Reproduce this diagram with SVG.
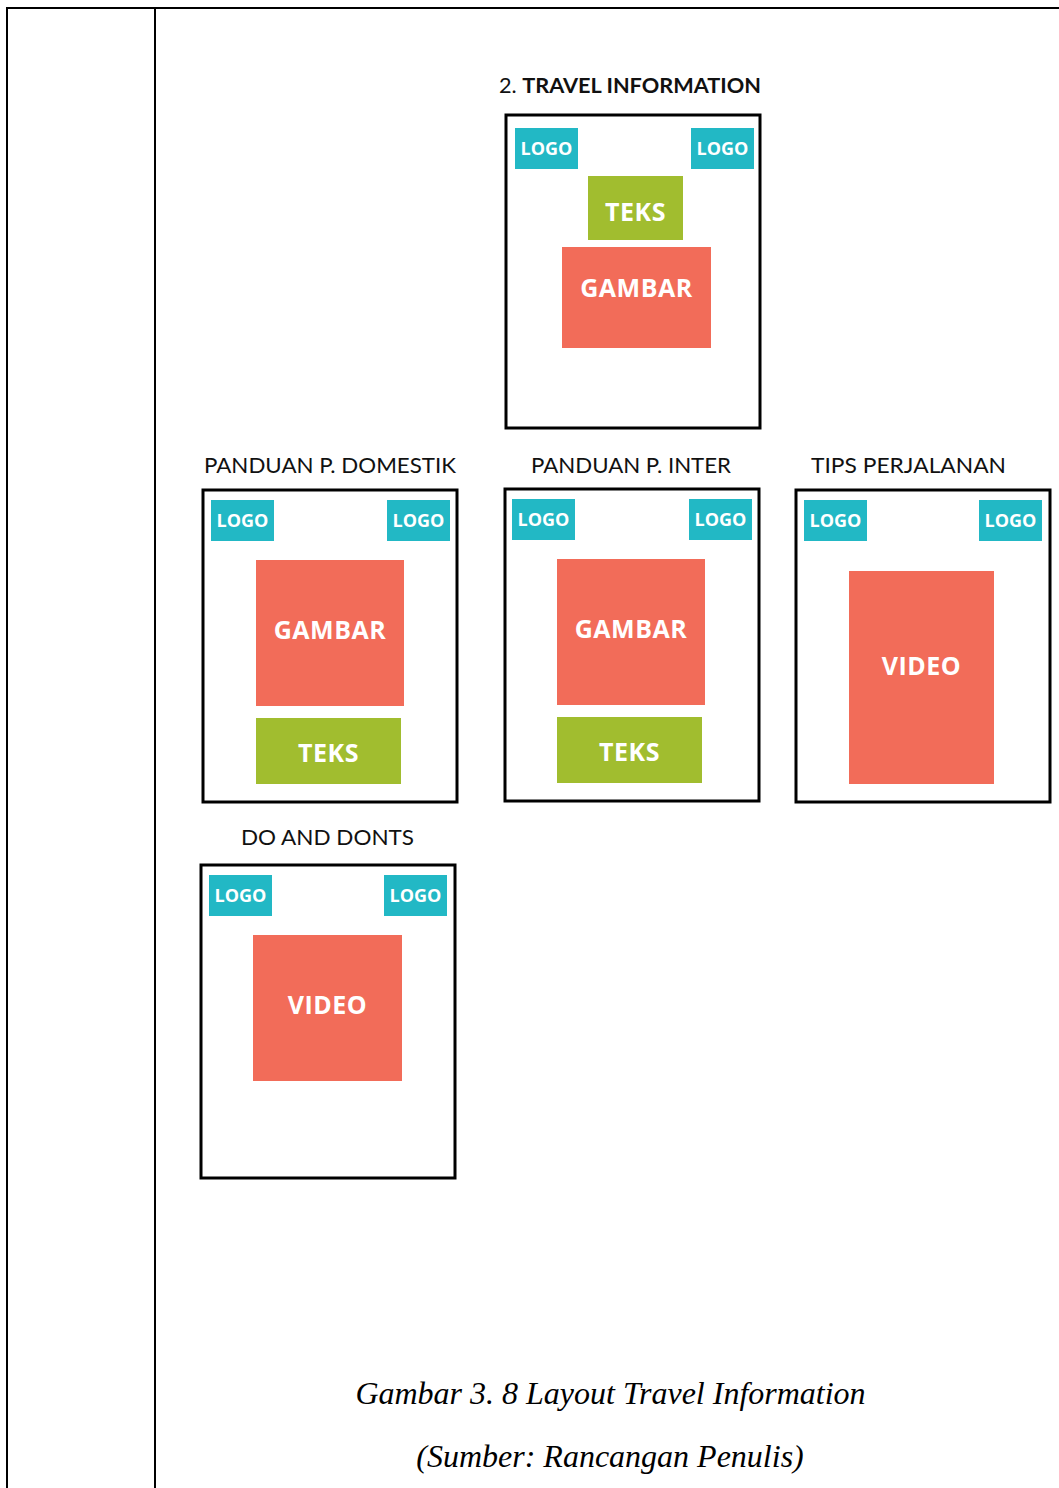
<svg xmlns="http://www.w3.org/2000/svg" width="1059" height="1488" viewBox="0 0 1059 1488">
<style>
.tbl{stroke:#000;stroke-width:2;fill:none}
.frame{fill:#fff;stroke:#000;stroke-width:3}
.logo{fill:#22B8C5}
.teks{fill:#A1BD2F}
.gam{fill:#F26C59}
.lt{font-family:"Open Sans",sans-serif;font-weight:700;font-size:18px;fill:#fff;text-anchor:middle}
.bt{font-family:"Open Sans",sans-serif;font-weight:700;font-size:25px;fill:#fff;text-anchor:middle;letter-spacing:0.5px}
.hd{font-family:Lato,"Noto Sans",sans-serif;font-size:21px;fill:#111}
.cap{font-family:"Liberation Serif",serif;font-style:italic;font-size:32px;fill:#000;text-anchor:middle}
</style>
<rect width="1059" height="1488" fill="#fff"/>
<g id="table">
<line class="tbl" x1="7" y1="8" x2="1059" y2="8"/>
<line class="tbl" x1="7" y1="7" x2="7" y2="1488"/>
<line class="tbl" x1="155" y1="7" x2="155" y2="1488"/>
</g>
<g id="title">
<text class="hd" x="499" y="93" textLength="262" lengthAdjust="spacingAndGlyphs">2. <tspan font-weight="700">TRAVEL INFORMATION</tspan></text>
</g>
<g id="node-travel">
<rect class="frame" x="506" y="115" width="254" height="313"/>
<rect class="logo" x="515" y="128" width="63" height="41"/><text class="lt" x="546.5" y="155">LOGO</text>
<rect class="logo" x="691" y="128" width="63" height="41"/><text class="lt" x="722.5" y="155">LOGO</text>
<rect class="teks" x="588" y="176" width="95" height="64"/><text class="bt" x="635.5" y="221">TEKS</text>
<rect class="gam" x="562" y="247" width="149" height="101"/><text class="bt" x="636.5" y="297">GAMBAR</text>
</g>
<g id="node-domestik">
<text class="hd" x="204" y="473" textLength="252" lengthAdjust="spacingAndGlyphs">PANDUAN P. DOMESTIK</text>
<rect class="frame" x="203" y="490" width="254" height="312"/>
<rect class="logo" x="211" y="500" width="63" height="41"/><text class="lt" x="242.5" y="527">LOGO</text>
<rect class="logo" x="387" y="500" width="63" height="41"/><text class="lt" x="418.5" y="527">LOGO</text>
<rect class="gam" x="256" y="560" width="148" height="146"/><text class="bt" x="330" y="639">GAMBAR</text>
<rect class="teks" x="256" y="718" width="145" height="66"/><text class="bt" x="328.5" y="762">TEKS</text>
</g>
<g id="node-inter">
<text class="hd" x="531" y="473" textLength="200" lengthAdjust="spacingAndGlyphs">PANDUAN P. INTER</text>
<rect class="frame" x="505" y="489" width="254" height="312"/>
<rect class="logo" x="512" y="499" width="63" height="41"/><text class="lt" x="543.5" y="526">LOGO</text>
<rect class="logo" x="689" y="499" width="63" height="41"/><text class="lt" x="720.5" y="526">LOGO</text>
<rect class="gam" x="557" y="559" width="148" height="146"/><text class="bt" x="631" y="638">GAMBAR</text>
<rect class="teks" x="557" y="717" width="145" height="66"/><text class="bt" x="629.5" y="761">TEKS</text>
</g>
<g id="node-tips">
<text class="hd" x="811" y="473" textLength="195" lengthAdjust="spacingAndGlyphs">TIPS PERJALANAN</text>
<rect class="frame" x="796" y="490" width="254" height="312"/>
<rect class="logo" x="804" y="500" width="63" height="41"/><text class="lt" x="835.5" y="527">LOGO</text>
<rect class="logo" x="979" y="500" width="63" height="41"/><text class="lt" x="1010.5" y="527">LOGO</text>
<rect class="gam" x="849" y="571" width="145" height="213"/><text class="bt" x="921.5" y="675">VIDEO</text>
</g>
<g id="node-dodonts">
<text class="hd" x="241" y="845" textLength="173" lengthAdjust="spacingAndGlyphs">DO AND DONTS</text>
<rect class="frame" x="201" y="865" width="254" height="313"/>
<rect class="logo" x="209" y="875" width="63" height="41"/><text class="lt" x="240.5" y="902">LOGO</text>
<rect class="logo" x="384" y="875" width="63" height="41"/><text class="lt" x="415.5" y="902">LOGO</text>
<rect class="gam" x="253" y="935" width="149" height="146"/><text class="bt" x="327.5" y="1014">VIDEO</text>
</g>
<g id="connectors"></g>
<g id="caption">
<text class="cap" x="610.5" y="1404">Gambar 3. 8 Layout Travel Information</text>
<text class="cap" x="610" y="1467">(Sumber: Rancangan Penulis)</text>
</g>
</svg>
